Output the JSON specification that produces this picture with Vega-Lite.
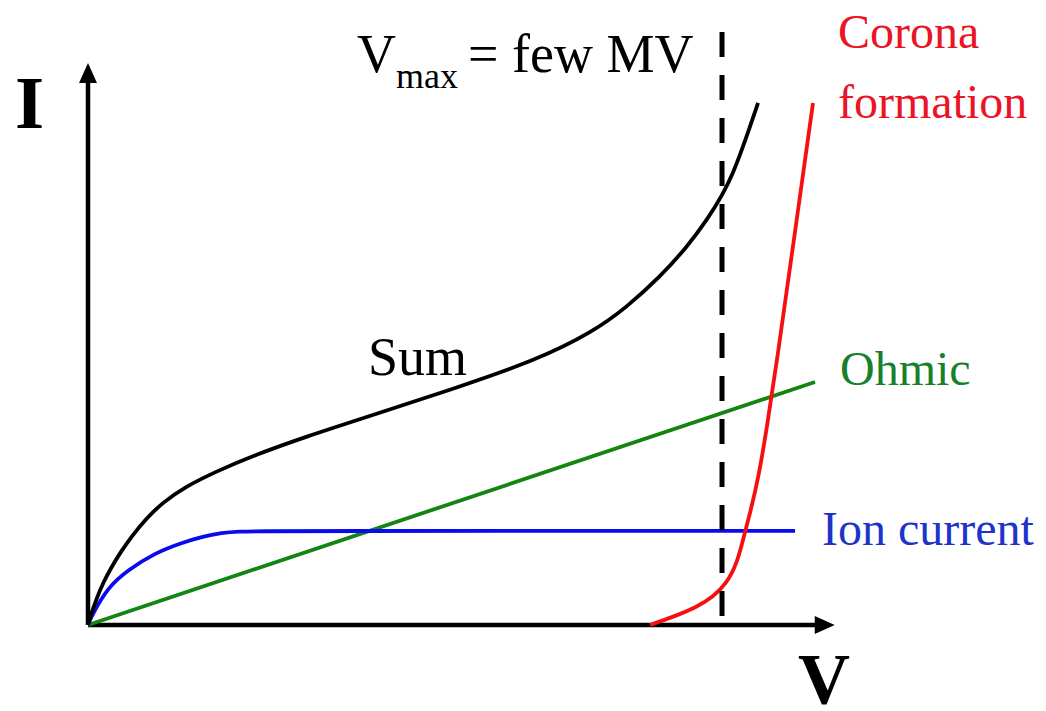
{
  "$schema": "https://vega.github.io/schema/vega-lite/v6.json",
  "width": 1046,
  "height": 711,
  "padding": 0,
  "autosize": {"type": "none"},
  "background": "white",
  "config": {"view": {"stroke": null}},
  "encoding": {
    "x": {"field": "v", "type": "quantitative", "scale": {"domain": [-1.388, 15.11], "nice": false, "zero": false}, "axis": null},
    "y": {"field": "i", "type": "quantitative", "scale": {"domain": [-0.925, 6.72], "nice": false, "zero": false}, "axis": null}
  },
  "layer": [
    {
      "data": {"values": [{"v": 0, "v2": 11.55, "i": 0}]},
      "mark": {"type": "rule", "color": "black", "strokeWidth": 4.5},
      "encoding": {"x2": {"field": "v2"}}
    },
    {
      "data": {"values": [{"v": 0, "i": 0, "i2": 5.92}]},
      "mark": {"type": "rule", "color": "black", "strokeWidth": 4.5},
      "encoding": {"y2": {"field": "i2"}}
    },
    {
      "data": {"values": [{"v": 11.62, "i": 0}]},
      "mark": {"type": "point", "shape": "M1,0L-1,0.9L-1,-0.9Z", "filled": true, "color": "black", "opacity": 1, "size": 400}
    },
    {
      "data": {"values": [{"v": 0, "i": 5.935}]},
      "mark": {"type": "point", "shape": "M0,-1L0.9,1L-0.9,1Z", "filled": true, "color": "black", "opacity": 1, "size": 400}
    },
    {
      "data": {"values": [
        {"s": "Ohmic", "v": 0, "i": 0},
        {"s": "Ohmic", "v": 11.467, "i": 2.613},
        {"s": "Ion", "v": 0, "i": 0},
        {"s": "Ion", "v": 0.047, "i": 0.086},
        {"s": "Ion", "v": 0.315, "i": 0.409},
        {"s": "Ion", "v": 0.631, "i": 0.591},
        {"s": "Ion", "v": 1.057, "i": 0.774},
        {"s": "Ion", "v": 1.467, "i": 0.882},
        {"s": "Ion", "v": 1.845, "i": 0.956},
        {"s": "Ion", "v": 2.098, "i": 0.99},
        {"s": "Ion", "v": 2.4, "i": 1.005},
        {"s": "Ion", "v": 2.634, "i": 1.008},
        {"s": "Ion", "v": 3.943, "i": 1.011},
        {"s": "Ion", "v": 7.5, "i": 1.011},
        {"s": "Ion", "v": 11.151, "i": 1.011},
        {"s": "Ion", "v": 11.152, "i": 1.011},
        {"s": "Sum", "v": 0, "i": 0},
        {"s": "Sum", "v": 0.047, "i": 0.108},
        {"s": "Sum", "v": 0.126, "i": 0.269},
        {"s": "Sum", "v": 0.237, "i": 0.452},
        {"s": "Sum", "v": 0.363, "i": 0.613},
        {"s": "Sum", "v": 0.505, "i": 0.774},
        {"s": "Sum", "v": 0.694, "i": 0.957},
        {"s": "Sum", "v": 0.899, "i": 1.129},
        {"s": "Sum", "v": 1.167, "i": 1.312},
        {"s": "Sum", "v": 1.53, "i": 1.484},
        {"s": "Sum", "v": 2.003, "i": 1.645},
        {"s": "Sum", "v": 2.634, "i": 1.828},
        {"s": "Sum", "v": 3.423, "i": 2.022},
        {"s": "Sum", "v": 4.401, "i": 2.237},
        {"s": "Sum", "v": 5.71, "i": 2.527},
        {"s": "Sum", "v": 7.082, "i": 2.849},
        {"s": "Sum", "v": 7.965, "i": 3.151},
        {"s": "Sum", "v": 8.502, "i": 3.419},
        {"s": "Sum", "v": 9.022, "i": 3.742},
        {"s": "Sum", "v": 9.448, "i": 4.065},
        {"s": "Sum", "v": 9.763, "i": 4.355},
        {"s": "Sum", "v": 10.016, "i": 4.634},
        {"s": "Sum", "v": 10.174, "i": 4.86},
        {"s": "Sum", "v": 10.315, "i": 5.108},
        {"s": "Sum", "v": 10.568, "i": 5.613},
        {"s": "Corona", "v": 8.864, "i": 0},
        {"s": "Corona", "v": 9.227, "i": 0.086},
        {"s": "Corona", "v": 9.606, "i": 0.194},
        {"s": "Corona", "v": 9.858, "i": 0.301},
        {"s": "Corona", "v": 10.079, "i": 0.452},
        {"s": "Corona", "v": 10.237, "i": 0.667},
        {"s": "Corona", "v": 10.331, "i": 0.914},
        {"s": "Corona", "v": 10.442, "i": 1.204},
        {"s": "Corona", "v": 10.568, "i": 1.559},
        {"s": "Corona", "v": 10.71, "i": 2.129},
        {"s": "Corona", "v": 10.868, "i": 2.849},
        {"s": "Corona", "v": 11.12, "i": 4.075},
        {"s": "Corona", "v": 11.435, "i": 5.613}
      ]},
      "mark": {"type": "line", "interpolate": "basis", "strokeWidth": 3.8, "strokeCap": "butt"},
      "encoding": {
        "color": {"field": "s", "type": "nominal", "legend": null,
          "scale": {"domain": ["Ohmic", "Ion", "Sum", "Corona"], "range": ["#128512", "#0a0af0", "#000000", "#f51010"]}}
      }
    },
    {
      "data": {"values": [{"v": 10.0, "i": 6.376, "i2": 0}]},
      "mark": {"type": "rule", "color": "black", "strokeWidth": 5, "strokeDash": [25, 18], "strokeCap": "butt"},
      "encoding": {"y2": {"field": "i2"}}
    },
    {
      "data": {"values": [{"v": -1.151, "i": 5.344, "t": "I"}]},
      "mark": {"type": "text", "font": "Liberation Serif", "fontWeight": "bold", "fontSize": 75, "align": "left", "baseline": "alphabetic", "color": "black"},
      "encoding": {"text": {"field": "t"}}
    },
    {
      "data": {"values": [{"v": 11.199, "i": -0.838, "t": "V"}]},
      "mark": {"type": "text", "font": "Liberation Serif", "fontWeight": "bold", "fontSize": 72, "align": "left", "baseline": "alphabetic", "color": "black"},
      "encoding": {"text": {"field": "t"}}
    },
    {
      "data": {"values": [{"v": 4.243, "i": 5.946, "t": "V"}, {"v": 5.994, "i": 5.946, "t": "= few MV"}, {"v": 4.416, "i": 2.688, "t": "Sum"}]},
      "mark": {"type": "text", "font": "Liberation Serif", "fontSize": 54, "align": "left", "baseline": "alphabetic", "color": "black"},
      "encoding": {"text": {"field": "t"}}
    },
    {
      "data": {"values": [{"v": 4.858, "i": 5.774, "t": "max"}]},
      "mark": {"type": "text", "font": "Liberation Serif", "fontSize": 36, "align": "left", "baseline": "alphabetic", "color": "black"},
      "encoding": {"text": {"field": "t"}}
    },
    {
      "data": {"values": [{"v": 11.861, "i": 2.581, "t": "Ohmic"}]},
      "mark": {"type": "text", "font": "Liberation Serif", "fontSize": 48, "align": "left", "baseline": "alphabetic", "color": "#17802a"},
      "encoding": {"text": {"field": "t"}}
    },
    {
      "data": {"values": [{"v": 11.577, "i": 0.86, "t": "Ion current"}]},
      "mark": {"type": "text", "font": "Liberation Serif", "fontSize": 48, "align": "left", "baseline": "alphabetic", "color": "#1c34c8"},
      "encoding": {"text": {"field": "t"}}
    },
    {
      "data": {"values": [{"v": 11.83, "i": 6.204, "t": "Corona"}, {"v": 11.83, "i": 5.452, "t": "formation"}]},
      "mark": {"type": "text", "font": "Liberation Serif", "fontSize": 48, "align": "left", "baseline": "alphabetic", "color": "#ea1424"},
      "encoding": {"text": {"field": "t"}}
    }
  ]
}
